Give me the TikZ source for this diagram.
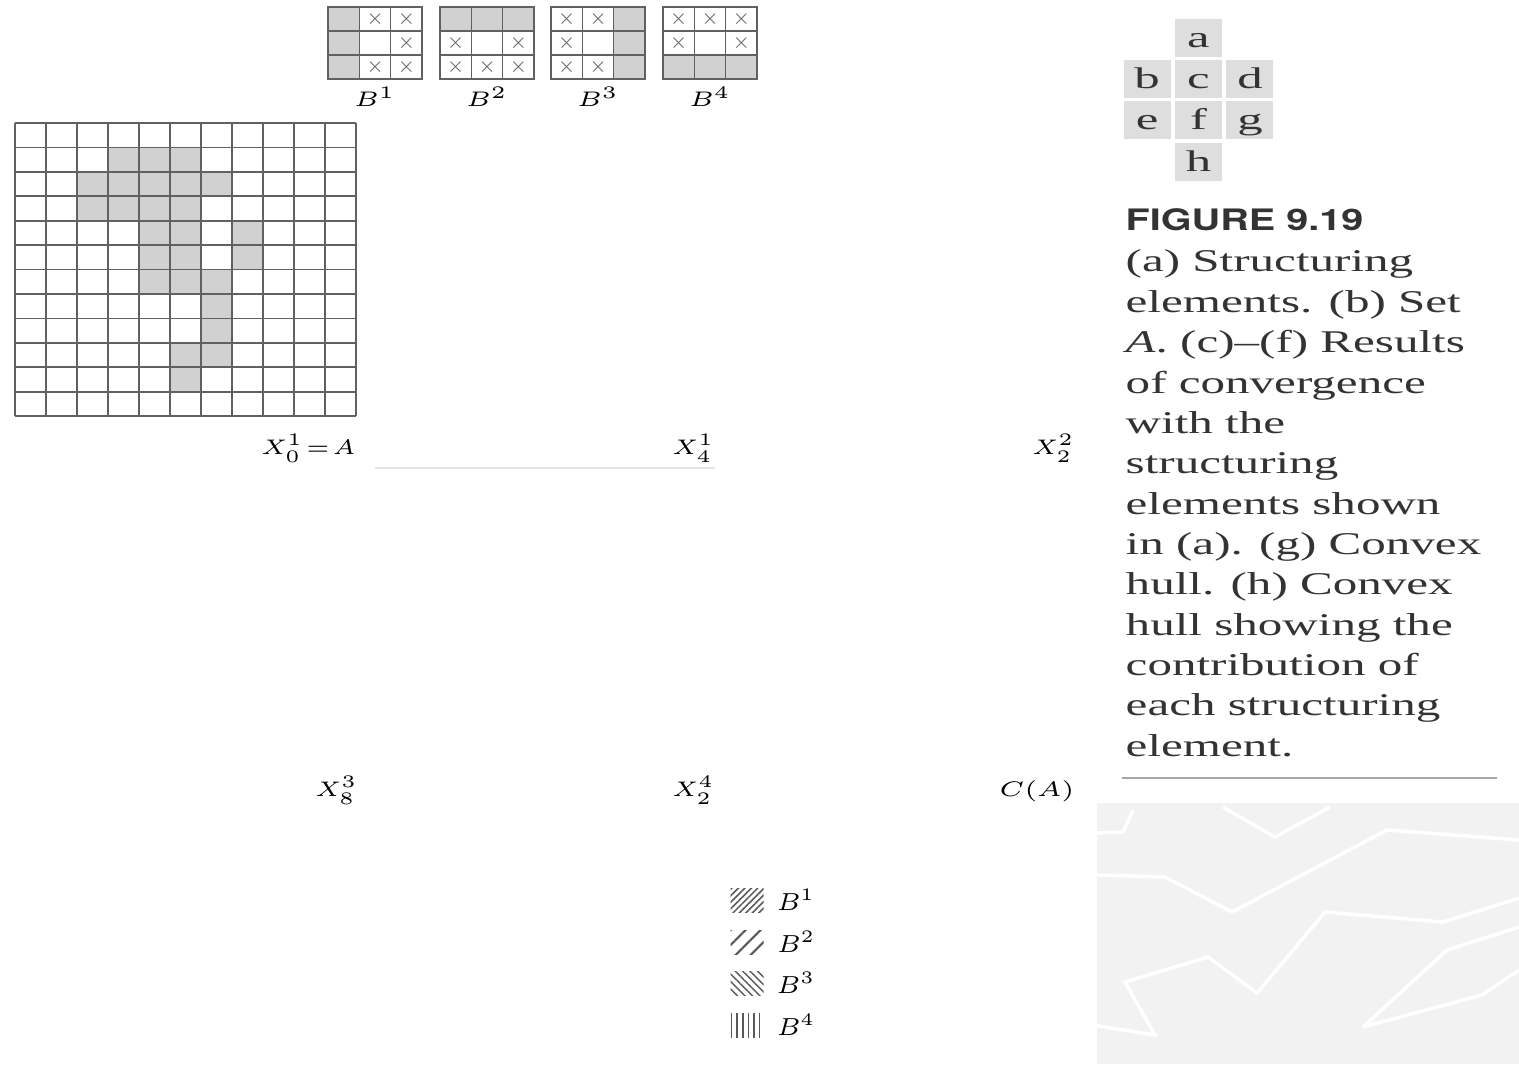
\documentclass[tikz,border=0pt]{standalone}
\usepackage{fontspec}
\newfontfamily\capserif{Liberation Serif}
\newfontfamily\capsans{TeX Gyre Heros}
\usetikzlibrary{patterns.meta}
\usetikzlibrary{positioning}

\colorlet{cellgray}{black!18}
\colorlet{linegray}{black!62}
\newcommand{\wide}[2]{\scalebox{#1}[1]{#2}}

\tikzset{
  lbl/.style={inner sep=0pt, font=\fontsize{6}{7}\selectfont},
  letterbox/.style={fill=black!13, minimum width=0.47cm, minimum height=0.38cm, inner sep=0pt,
    text height=7.4pt, text depth=2pt, text=black!80, font=\capserif\fontsize{8.5}{9}\selectfont},
  swatch/.style={minimum width=0.33cm, minimum height=0.24cm, inner sep=0pt, pattern color=black!65},
  xmark/.style={inner sep=0pt, text=black!60, font=\fontsize{4.5}{5}\selectfont},
}

\begin{document}
\begin{tikzpicture}[x=0.01cm,y=-0.01cm]
\useasboundingbox (0,0) rectangle (1519,1064);
\fill[white] (0,0) rectangle (1519,1064);

% structuring elements B1..B4
\begin{scope}[shift={(328,7)},x=0.3133cm,y=-0.24cm]
\fill[cellgray] (0,0) rectangle (1,3);
\foreach \c/\r in {1/0,2/0,2/1,1/2,2/2} \node[xmark] (ba-\c-\r) at (\c+0.5,\r+0.5) {$\times$};
\foreach \i in {1,2} {\draw[linegray,thin] (\i,0) -- (\i,3); \draw[linegray,thin] (0,\i) -- (3,\i);}
\draw[linegray,line width=0.8pt] (0,0) rectangle (3,3);
\end{scope}
\begin{scope}[shift={(440,7)},x=0.3133cm,y=-0.24cm]
\fill[cellgray] (0,0) rectangle (3,1);
\foreach \c/\r in {0/1,2/1,0/2,1/2,2/2} \node[xmark] (bb-\c-\r) at (\c+0.5,\r+0.5) {$\times$};
\foreach \i in {1,2} {\draw[linegray,thin] (\i,0) -- (\i,3); \draw[linegray,thin] (0,\i) -- (3,\i);}
\draw[linegray,line width=0.8pt] (0,0) rectangle (3,3);
\end{scope}
\begin{scope}[shift={(551,7)},x=0.3133cm,y=-0.24cm]
\fill[cellgray] (2,0) rectangle (3,3);
\foreach \c/\r in {0/0,1/0,0/1,0/2,1/2} \node[xmark] (bc-\c-\r) at (\c+0.5,\r+0.5) {$\times$};
\foreach \i in {1,2} {\draw[linegray,thin] (\i,0) -- (\i,3); \draw[linegray,thin] (0,\i) -- (3,\i);}
\draw[linegray,line width=0.8pt] (0,0) rectangle (3,3);
\end{scope}
\begin{scope}[shift={(663,7)},x=0.3133cm,y=-0.24cm]
\fill[cellgray] (0,2) rectangle (3,3);
\foreach \c/\r in {0/0,1/0,2/0,0/1,2/1} \node[xmark] (bd-\c-\r) at (\c+0.5,\r+0.5) {$\times$};
\foreach \i in {1,2} {\draw[linegray,thin] (\i,0) -- (\i,3); \draw[linegray,thin] (0,\i) -- (3,\i);}
\draw[linegray,line width=0.8pt] (0,0) rectangle (3,3);
\end{scope}
\node[lbl,anchor=base] (lb1) at (375,107) {\wide{1.2}{$B^1$}};
\node[lbl,anchor=base] (lb2) at (487,107) {\wide{1.2}{$B^2$}};
\node[lbl,anchor=base] (lb3) at (598,107) {\wide{1.2}{$B^3$}};
\node[lbl,anchor=base] (lb4) at (710,107) {\wide{1.2}{$B^4$}};

% set A
\begin{scope}[shift={(15,123)},x=0.31cm,y=-0.2442cm]
\foreach \c/\r in {3/1,4/1,5/1,2/2,3/2,4/2,5/2,6/2,2/3,3/3,4/3,5/3,4/4,5/4,7/4,4/5,5/5,7/5,4/6,5/6,6/6,6/7,6/8,5/9,6/9,5/10}
  \fill[cellgray] (\c,\r) rectangle ++(1,1);
\foreach \c in {0,...,11} \draw[linegray,line width=0.5pt] (\c,0) -- (\c,12);
\foreach \r in {0,...,12} \draw[linegray,line width=0.5pt] (0,\r) -- (11,\r);
\end{scope}

\node[lbl,anchor=base east] (xa) at (356,454) {\wide{1.15}{$X^1_0\!=\!A$}};
\node[lbl,anchor=base east] (xb) at (715,454) {\wide{1.15}{$X^1_4$}};
\node[lbl,anchor=base east] (xc) at (1075,454) {\wide{1.15}{$X^2_2$}};
\draw[black!10] (375,468) -- (715,468);
\node[lbl,anchor=base east] (xd) at (358,796) {\wide{1.15}{$X^3_8$}};
\node[lbl,anchor=base east] (xe) at (715,796) {\wide{1.15}{$X^4_2$}};
\node[lbl,anchor=base east] (xf) at (1075,796) {\wide{1.25}{$C(A)$}};

% legend
\node[swatch,pattern={Lines[angle=45,distance=1.3pt,line width=0.45pt]}] (s1) at (747,900) {};
\node[swatch,pattern={Lines[angle=45,distance=3pt,line width=0.6pt]}] (s2) at (747,942) {};
\node[swatch,pattern={Lines[angle=-45,distance=1.5pt,line width=0.4pt]}] (s3) at (747,983) {};
\node[swatch,pattern={Lines[angle=90,distance=1.6pt,line width=0.45pt]}] (s4) at (747,1025) {};
\node[lbl,font=\fontsize{7}{8}\selectfont,right=0.12cm of s1] (t1) {\wide{1.05}{$B^1$}};
\node[lbl,font=\fontsize{7}{8}\selectfont,right=0.12cm of s2] (t2) {\wide{1.05}{$B^2$}};
\node[lbl,font=\fontsize{7}{8}\selectfont,right=0.12cm of s3] (t3) {\wide{1.05}{$B^3$}};
\node[lbl,font=\fontsize{7}{8}\selectfont,right=0.12cm of s4] (t4) {\wide{1.05}{$B^4$}};

% neighbourhood letters
\node[letterbox] (c) at (1198.5,79) {\wide{1.7}{c}};
\node[letterbox,above=0.02cm of c] (a) {\wide{1.7}{a}};
\node[letterbox,left=0.03cm of c] (b) {\wide{1.7}{b}};
\node[letterbox,right=0.03cm of c] (d) {\wide{1.7}{d}};
\node[letterbox,below=0.02cm of c] (f) {\wide{1.7}{f}};
\node[letterbox,left=0.03cm of f] (e) {\wide{1.7}{e}};
\node[letterbox,right=0.03cm of f] (g) {\wide{1.7}{g}};
\node[letterbox,below=0.02cm of f] (h) {\wide{1.7}{h}};

% caption
\node[anchor=base west,inner sep=0pt,text=black!80] (fig) at (1125,231)
  {\capsans\bfseries\fontsize{8.4}{10}\selectfont\wide{1.34}{FIGURE 9.19}};
\node[anchor=base west,inner sep=0pt,text=black!80] (cap) at (1125,272)
  {\capserif\fontsize{9}{11.47}\selectfont\wide{1.55}{\begin{tabular}[t]{@{}l@{}}
  (a) Structuring\\
  elements. (b) Set\\
  \textit{A}. (c)–(f) Results\\
  of convergence\\
  with the\\
  structuring\\
  elements shown\\
  in (a). (g) Convex\\
  hull. (h) Convex\\
  hull showing the\\
  contribution of\\
  each structuring\\
  element.
  \end{tabular}}};
\draw[black!35,line width=0.6pt] (1122,778) -- (1497,778);

% page background
\fill[black!5] (1097,803) rectangle (1519,1064);
\begin{scope}[white,line width=1pt]
\draw (1097,833) -- (1123,832) -- (1133,810);
\draw (1223,807) -- (1275,837) -- (1330,807);
\draw (1097,875) -- (1165,877) -- (1232,912) -- (1387,830) -- (1519,840);
\draw (1093,1025) -- (1155,1035) -- (1125,982) -- (1208,957) -- (1257,993) -- (1325,912) -- (1443,922) -- (1519,898);
\draw (1363,1027) -- (1447,950) -- (1519,927);
\draw (1363,1027) -- (1482,995) -- (1519,970);
\end{scope}

\end{tikzpicture}
\end{document}
